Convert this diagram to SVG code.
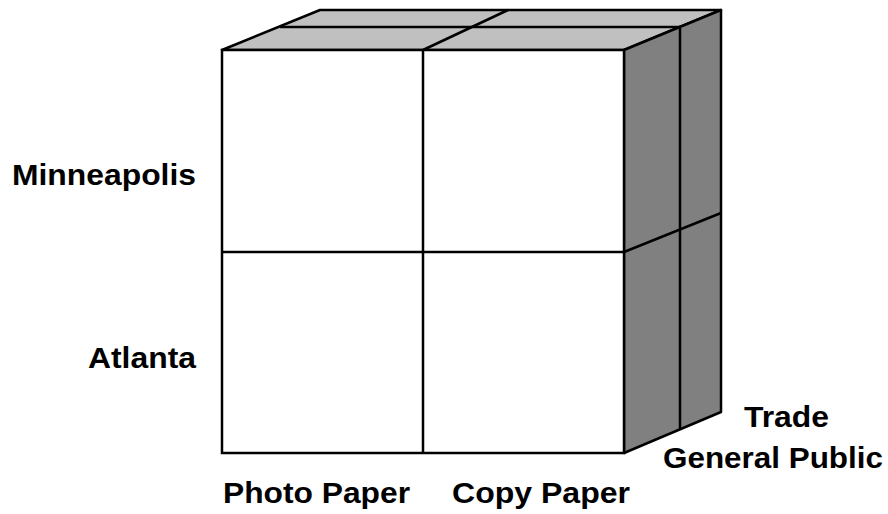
<svg xmlns="http://www.w3.org/2000/svg" width="888" height="514" viewBox="0 0 888 514">
<style>
.ln{stroke:#000;stroke-width:2.5;stroke-linejoin:round;fill:none}
.top{fill:#c0c0c0;stroke:#000;stroke-width:2.5;stroke-linejoin:round}
.side{fill:#808080;stroke:#000;stroke-width:2.5;stroke-linejoin:round}
.front{fill:#fff;stroke:#000;stroke-width:2.5}
text{font-family:"Liberation Sans",Arial,sans-serif;font-weight:bold;font-size:29px;fill:#000}
</style>
<rect width="888" height="514" fill="#fff"/>
<g id="cube">
<polygon class="top" points="222,50 320,10 721,10 624,50"/>
<polygon class="side" points="624,50 721,10 721,412 624,453"/>
<rect class="front" x="222" y="50" width="402" height="403"/>
<g id="connectors">
<line class="ln" x1="280" y1="27" x2="680" y2="27"/>
<line class="ln" x1="423" y1="50" x2="508" y2="10"/>
<line class="ln" x1="680" y1="27" x2="680" y2="429"/>
<line class="ln" x1="624" y1="252" x2="721" y2="213"/>
<line class="ln" x1="423" y1="50" x2="423" y2="453"/>
<line class="ln" x1="222" y1="252" x2="624" y2="252"/>
</g>
</g>
<g id="labels">
<text x="196" y="185" text-anchor="end" textLength="184" lengthAdjust="spacingAndGlyphs">Minneapolis</text>
<text x="196" y="368" text-anchor="end" textLength="108" lengthAdjust="spacingAndGlyphs">Atlanta</text>
<text x="223" y="503" textLength="187" lengthAdjust="spacingAndGlyphs">Photo Paper</text>
<text x="452" y="503" textLength="178" lengthAdjust="spacingAndGlyphs">Copy Paper</text>
<text x="744" y="427" textLength="85" lengthAdjust="spacingAndGlyphs">Trade</text>
<text x="663" y="468" textLength="220" lengthAdjust="spacingAndGlyphs">General Public</text>
</g>
</svg>
